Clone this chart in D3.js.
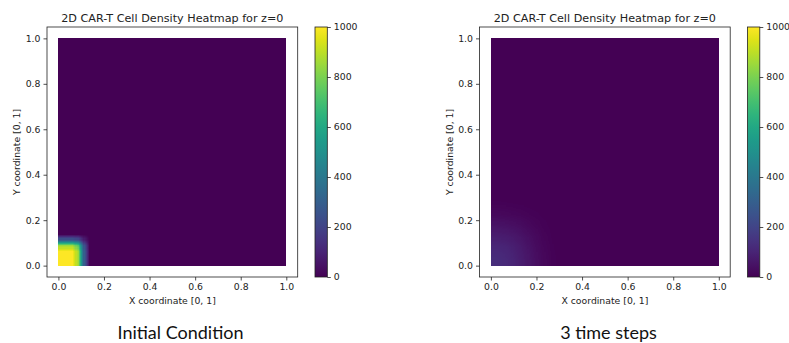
<!DOCTYPE html>
<html>
<head>
<meta charset="utf-8">
<script src="https://cdn.jsdelivr.net/npm/d3@7"></script>
<style>
  body { margin: 0; background: #fff; }
  text { font-family: "DejaVu Sans", sans-serif; fill: #222; }
  .caption { font-family: Lato, "Open Sans", sans-serif; fill: #111; }
</style>
</head>
<body>
<svg id="chart"></svg>
<script>
var w = 789, h = 343;

// chart data
var titles = ["2D CAR-T Cell Density Heatmap for z=0", "2D CAR-T Cell Density Heatmap for z=0"];
var captions = ["Initial Condition", "3 time steps"];
var xTicks = [0.0, 0.2, 0.4, 0.6, 0.8, 1.0];
var yTicks = [0.0, 0.2, 0.4, 0.6, 0.8, 1.0];
var cbTicks = [0, 200, 400, 600, 800, 1000];
var densityMax = 1000;

// density grid near the origin (rows = y, cols = x), rest of the domain is 0
var initCellSize = 0.025;
var initCorner = [
  [1000, 1000, 1000, 850, 300, 0],
  [1000, 1000, 1000, 850, 300, 0],
  [1000, 1000, 1000, 850, 300, 0],
  [ 850,  850,  850, 720, 255, 0],
  [ 300,  300,  300, 255,  90, 0],
  [   0,    0,    0,   0,   0, 0]
];
var stepCellSize = 0.05;
var stepCorner = [
  [125, 110, 82, 50, 22, 5],
  [110,  98, 72, 44, 18, 4],
  [ 82,  72, 55, 33, 13, 2],
  [ 50,  44, 33, 19,  7, 1],
  [ 22,  18, 13,  7,  3, 0],
  [  5,   4,  2,  1,  0, 0]
];
var grids = [
  {cell: initCellSize, vals: initCorner},
  {cell: stepCellSize, vals: stepCorner}
];

var svg = d3.select("#chart").attr("width", w).attr("height", h);

var color = d3.scaleSequential(d3.interpolateViridis).domain([0, densityMax]);

// value at cell (i,j), zero outside the stored corner, clamped at the low edge
function cellVal(g, i, j) {
  i = Math.max(0, i); j = Math.max(0, j);
  if (j >= g.vals.length || i >= g.vals[0].length) return 0;
  return g.vals[j][i];
}
// bilinear interpolation between cell centres (like imshow interpolation='bilinear')
function sample(g, x, y) {
  var fx = x / g.cell - 0.5, fy = y / g.cell - 0.5;
  var i0 = Math.floor(fx), j0 = Math.floor(fy);
  var tx = fx - i0, ty = fy - j0;
  var a = cellVal(g, i0, j0), b = cellVal(g, i0 + 1, j0),
      c = cellVal(g, i0, j0 + 1), d = cellVal(g, i0 + 1, j0 + 1);
  return (a * (1 - tx) + b * tx) * (1 - ty) + (c * (1 - tx) + d * tx) * ty;
}

var offsets = [0, 432.5];

offsets.forEach(function(ox, p) {
  var g = svg.append("g").attr("transform", "translate(" + ox + ",0)");
  var x = d3.scaleLinear().domain([-0.05, 1.05]).range([47, 297.7]);
  var y = d3.scaleLinear().domain([-0.05, 1.05]).range([277, 27]);
  var grid = grids[p];

  // base of the heatmap
  g.append("rect")
    .attr("x", x(0)).attr("y", y(1))
    .attr("width", x(1) - x(0)).attr("height", y(0) - y(1))
    .attr("fill", color(0))
    .attr("shape-rendering", "crispEdges");

  // fine cells where the density is non zero
  var step = 0.005, reach = grid.cell * (grid.vals.length + 0.5);
  var cells = [];
  for (var yy = 0; yy < reach - 1e-9; yy += step) {
    for (var xx = 0; xx < reach - 1e-9; xx += step) {
      var v = sample(grid, xx + step / 2, yy + step / 2);
      if (v > 0.5) cells.push({x: xx, y: yy, v: v});
    }
  }
  g.append("g").selectAll("rect")
    .data(cells)
    .enter()
    .append("rect")
    .attr("x", function(d) { return x(d.x); })
    .attr("y", function(d) { return y(d.y + step) - (d.y > 0 ? 0.3 : 0); })
    .attr("width", x(step) - x(0) + 0.3)
    .attr("height", function(d) { return y(0) - y(step) + (d.y > 0 ? 0.3 : 0); })
    .attr("fill", function(d) { return color(d.v); })
    .attr("shape-rendering", "crispEdges");

  // axes frame
  g.append("rect")
    .attr("x", 47).attr("y", 27)
    .attr("width", 297.7 - 47).attr("height", 250)
    .attr("fill", "none").attr("stroke", "#222").attr("stroke-width", 0.8);

  var xAxis = g.append("g").attr("transform", "translate(0,277)")
    .call(d3.axisBottom(x).tickValues(xTicks).tickFormat(d3.format(".1f")).tickSizeOuter(0).tickSize(3.5).tickPadding(3));
  var yAxis = g.append("g").attr("transform", "translate(47,0)")
    .call(d3.axisLeft(y).tickValues(yTicks).tickFormat(d3.format(".1f")).tickSizeOuter(0).tickSize(3.5).tickPadding(3));
  [xAxis, yAxis].forEach(function(a) {
    a.select(".domain").remove();
    a.selectAll("line").attr("stroke", "#222").attr("stroke-width", 0.8);
    a.selectAll("text").style("font-family", "DejaVu Sans").style("font-size", "9.3px").attr("fill", "#222");
  });

  g.append("text")
    .attr("x", (47 + 297.7) / 2).attr("y", 21.5)
    .attr("text-anchor", "middle")
    .style("font-size", "11.2px")
    .text(titles[p]);

  g.append("text")
    .attr("x", (47 + 297.7) / 2).attr("y", 303.5)
    .attr("text-anchor", "middle")
    .style("font-size", "9.3px")
    .text("X coordinate [0, 1]");

  g.append("text")
    .attr("transform", "translate(20," + 152 + ") rotate(-90)")
    .attr("text-anchor", "middle")
    .style("font-size", "9.3px")
    .text("Y coordinate [0, 1]");

  // colorbar
  var cb = d3.scaleLinear().domain([0, densityMax]).range([277, 27]);
  var cbX = 315, cbW = 12.3;
  var stops = d3.range(0, 1.0001, 0.05);
  var gradId = "grad" + p;
  var grad = svg.append("defs").append("linearGradient")
    .attr("id", gradId).attr("x1", 0).attr("y1", 1).attr("x2", 0).attr("y2", 0);
  grad.selectAll("stop").data(stops).enter().append("stop")
    .attr("offset", function(d) { return d; })
    .attr("stop-color", function(d) { return d3.interpolateViridis(d); });
  g.append("rect")
    .attr("x", cbX).attr("y", 27).attr("width", cbW).attr("height", 250)
    .attr("fill", "url(#" + gradId + ")")
    .attr("stroke", "#222").attr("stroke-width", 0.8);
  var cbAxis = g.append("g").attr("transform", "translate(" + (cbX + cbW) + ",0)")
    .call(d3.axisRight(cb).tickValues(cbTicks).tickFormat(d3.format("d")).tickSizeOuter(0).tickSize(3.5).tickPadding(3));
  cbAxis.select(".domain").remove();
  cbAxis.selectAll("line").attr("stroke", "#222").attr("stroke-width", 0.8);
  cbAxis.selectAll("text").style("font-family", "DejaVu Sans").style("font-size", "9.3px").attr("fill", "#222");

  g.append("text")
    .attr("class", "caption")
    .attr("x", p === 0 ? 180.5 : 176)
    .attr("y", 339)
    .attr("text-anchor", "middle")
    .style("font-size", "18px")
    .text(captions[p]);
});
</script>
</body>
</html>
